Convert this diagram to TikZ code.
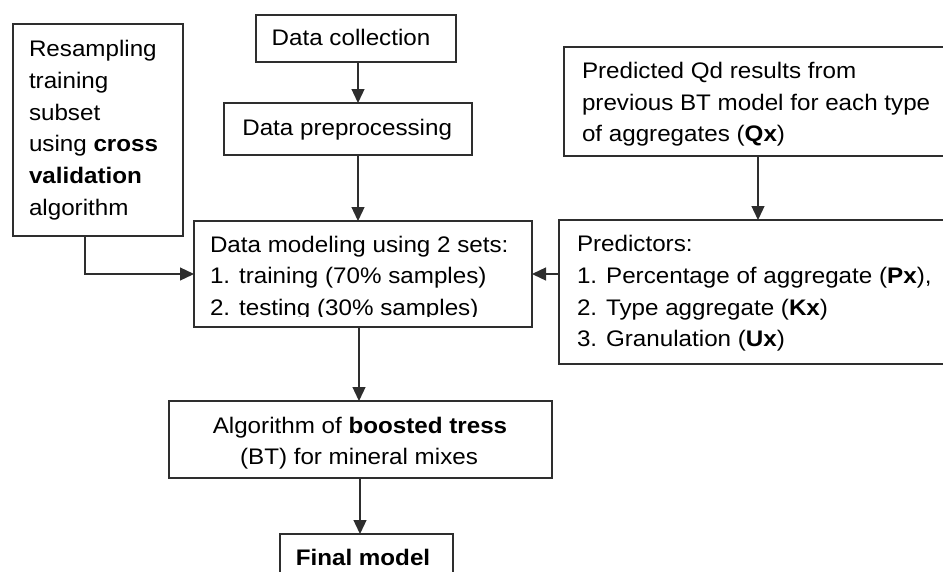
\documentclass[tikz,border=0pt]{standalone}
\usepackage{fontspec}
\setmainfont{Liberation Sans}[FakeStretch=1.075]
\usetikzlibrary{arrows.meta}
\begin{document}
\begin{tikzpicture}[x=1pt,y=-1pt,
  box/.style={draw=black!82,line width=1.3pt,fill=none,inner sep=0pt,outer sep=0pt,rectangle},
  txt/.style={anchor=base west,inner sep=0pt,outer sep=0pt,text=black,font=\fontsize{22.5}{31.7}\selectfont},
  ctxt/.style={txt,anchor=base},
  arr/.style={draw=black!82,line width=1.3pt,-{Triangle[length=14pt,width=13pt]}}]
\useasboundingbox (0,0) rectangle (943,571);
\clip (0,0) rectangle (943,571);
% boxes
\node[box,minimum width=170pt,minimum height=212pt] (rs) at (98,130) {};
\node[box,minimum width=200pt,minimum height=47pt] (dcb) at (356,38.5) {};
\node[box,minimum width=248pt,minimum height=52pt] (dpb) at (348,129) {};
\node[box,minimum width=396pt,minimum height=109pt] (qd) at (762,101.5) {};
\node[box,minimum width=338pt,minimum height=106pt] (dm) at (363,274) {};
\node[box,minimum width=401pt,minimum height=144pt] (pr) at (759.5,292) {};
\node[box,minimum width=383pt,minimum height=77pt] (al) at (360.5,439.5) {};
\node[box,minimum width=173pt,minimum height=86pt] (fmb) at (366.5,577) {};
% guide coordinates for connector positions
\coordinate (x1) at (358,0);
\coordinate (x2) at (85,0);
\coordinate (y2) at (0,274);
\coordinate (x3) at (758,0);
\coordinate (x4) at (359,0);
\coordinate (x5) at (360,0);
% texts
\node[txt] (r1) at (29,56.7) {Resampling};
\node[txt] (r2) at (29,88.3) {training};
\node[txt] (r3) at (29,120) {subset};
\node[txt] (r4) at (29,151.7) {using \textbf{cross}};
\node[txt] (r5) at (29,183.3) {\textbf{validation}};
\node[txt] (r6) at (29,215) {algorithm};
\node[txt] (dc) at (271.7,45) {Data collection};
\node[txt] (dp) at (242.3,135) {Data preprocessing};
\node[txt] (q1) at (582,78.3) {Predicted Qd results from};
\node[txt] (q2) at (582,110) {previous BT model for each type};
\node[txt] (q3) at (582,141.7) {of aggregates (\textbf{Qx})};
\node[txt] (m1) at (210,252) {Data modeling using 2 sets:};
\node[txt] (m2) at (210,283.5) {1. training (70\% samples)};
\begin{scope}
\clip (194,221) rectangle (532,316);
\node[txt] (m3) at (210,315) {2. testing (30\% samples)};
\end{scope}
\node[txt] (p1) at (577,251.7) {Predictors:};
\node[txt] (p2) at (577,283.3) {1. Percentage of aggregate (\textbf{Px}),};
\node[txt] (p3) at (577,315) {2. Type aggregate (\textbf{Kx})};
\node[txt] (p4) at (577,346.7) {3. Granulation (\textbf{Ux})};
\node[ctxt] (a1) at (360,433) {Algorithm of \textbf{boosted tress}};
\node[ctxt] (a2) at (359,464.5) {(BT) for mineral mixes};
\node[ctxt] (fm) at (363,565) {\textbf{Final model}};
% connectors
\draw[arr] (dcb.south -| x1) -- (dpb.north -| x1);
\draw[arr] (dpb.south -| x1) -- (dm.north -| x1);
\draw[arr] (rs.south -| x2) -- (x2 |- y2) -- (dm.west |- y2);
\draw[arr] (qd.south -| x3) -- (pr.north -| x3);
\draw[arr] (pr.west |- y2) -- (dm.east |- y2);
\draw[arr] (dm.south -| x4) -- (al.north -| x4);
\draw[arr] (al.south -| x5) -- (fmb.north -| x5);
\end{tikzpicture}
\end{document}
